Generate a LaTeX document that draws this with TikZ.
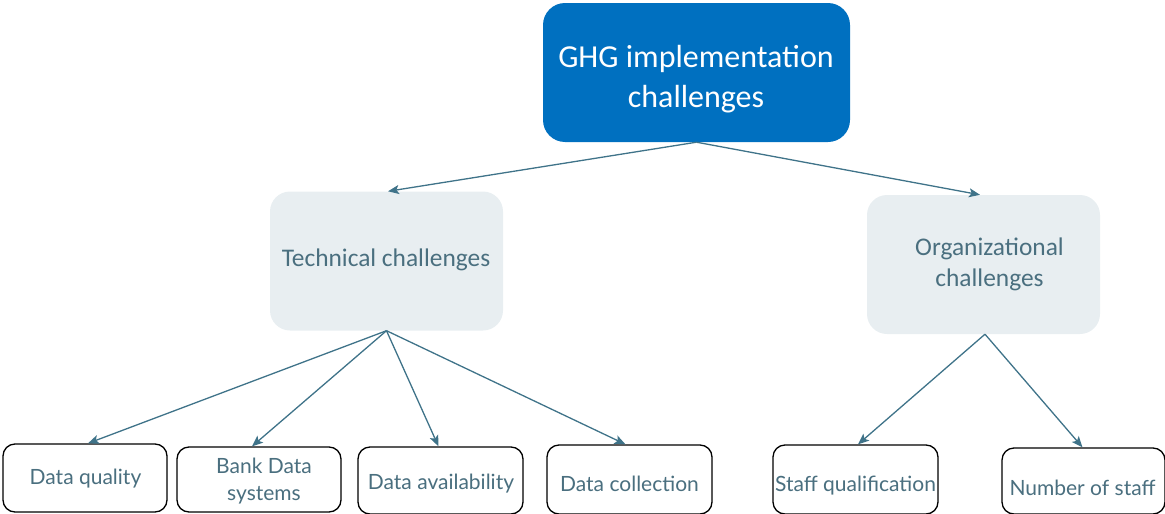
\documentclass[tikz,border=0pt]{standalone}
\usepackage{fontspec}
\setmainfont{Carlito}
\newfontfamily\latofont{Lato}
\usetikzlibrary{arrows.meta}
\definecolor{topblue}{HTML}{0070C0}
\definecolor{lightbox}{HTML}{E8EEF1}
\definecolor{tealtext}{HTML}{4A6F7F}
\definecolor{arrowcol}{HTML}{3F7389}
\tikzset{
  topbox/.style={draw=none, fill=topblue, rounded corners=22pt, minimum width=307pt, minimum height=139pt, inner sep=0pt},
  toptext/.style={text=white, align=center, font=\fontsize{32}{40}\selectfont, inner sep=0pt},
  midbox/.style={draw=none, fill=lightbox, rounded corners=20pt, minimum width=233pt, minimum height=139pt, inner sep=0pt},
  midtext/.style={text=tealtext, align=center, font=\fontsize{25.4}{31}\selectfont, inner sep=0pt},
  leafbox/.style={draw=black, line width=1.3pt, fill=white, rounded corners=12pt, minimum width=164pt, minimum height=67pt, inner sep=0pt},
  leaftext/.style={text=tealtext, align=center, font=\latofont\fontsize{21}{27}\selectfont, inner sep=0pt},
  link/.style={draw=arrowcol, line width=1.3pt, -{Stealth[length=11pt,width=9pt,inset=2.5pt]}}
}
\begin{document}
\begin{tikzpicture}[x=1pt,y=-1pt]
\useasboundingbox (0,0) rectangle (1165,514);
\node[topbox] (top) at (696.5,72.5) {};
\node[toptext] (topt) at (696,79.5) {GHG implementation\\challenges};
\node[midbox] (tech) at (386.5,261) {};
\node[midtext] (techt) at (386,260) {Technical challenges};
\node[midbox] (org) at (983.5,264.5) {};
\node[midtext] (orgt) at (989.5,264.5) {Organizational\\challenges};
\node[leafbox, minimum height=68pt] (dq) at (85,478) {};
\node[leaftext] (dqt) at (85.5,479) {Data quality};
\node[leafbox, minimum height=65pt] (bds) at (259,479.5) {};
\node[leaftext] (bdst) at (264,481.5) {Bank Data\\systems};
\node[leafbox, minimum width=165pt] (da) at (440.5,480.5) {};
\node[leaftext] (dat) at (441,483.5) {Data availability};
\node[leafbox, minimum width=165pt, minimum height=69pt] (dc) at (629.5,479.5) {};
\node[leaftext] (dct) at (629.5,483.5) {Data collection};
\node[leafbox, minimum width=165pt, minimum height=69pt] (sq) at (855.5,479.5) {};
\node[leaftext] (sqt) at (855.5,485.5) {Staff qualification};
\node[leafbox, minimum width=163pt, minimum height=66pt] (ns) at (1083.5,481) {};
\node[leaftext] (nst) at (1082.5,488) {Number of staff};
\draw[link] (top.south) -- ([xshift=1.5pt]tech.north);
\draw[link] (top.south) -- ([xshift=-3.5pt]org.north);
\draw[link] (tech.south) -- ([xshift=3pt]dq.north);
\draw[link] (tech.south) -- ([xshift=-7pt]bds.north);
\draw[link] (tech.south) -- ([xshift=-2pt]da.north);
\draw[link] (tech.south) -- ([xshift=-4pt]dc.north);
\draw[link] ([xshift=1.5pt]org.south) -- ([xshift=2.5pt]sq.north);
\draw[link] ([xshift=1.5pt]org.south) -- ([xshift=-1pt]ns.north);
\end{tikzpicture}
\end{document}
